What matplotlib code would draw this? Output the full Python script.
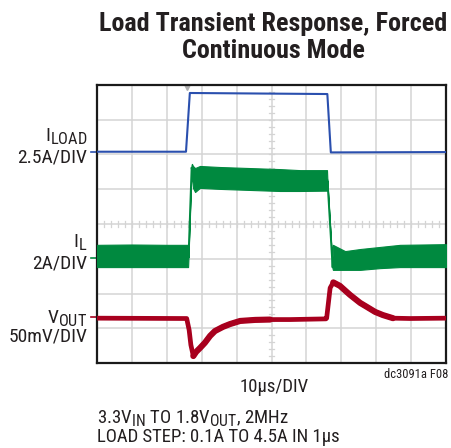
import matplotlib
matplotlib.use("Agg")
import matplotlib.pyplot as plt
import matplotlib._mathtext as mtext

# screen units: 10 x 8 divisions, values
blue_t = [0.00, 2.55, 2.66, 6.60, 6.70, 10.0]
blue_y = [6.08, 6.08, 7.77, 7.74, 6.06, 6.07]

green_t = [0.00, 1.00, 2.00, 2.61, 2.62, 2.71, 2.72, 2.75, 2.81, 2.95, 3.52, 4.38,
           5.24, 5.82, 6.59, 6.60, 6.75, 6.76, 7.11, 7.54, 8.11, 8.68, 10.0]
green_hi = [3.40, 3.41, 3.40, 3.40, 3.05, 5.70, 5.73, 5.67, 5.61, 5.67, 5.64, 5.61,
            5.58, 5.55, 5.55, 5.30, 2.78, 3.40, 3.22, 3.28, 3.34, 3.40, 3.42]
green_lo = [2.76, 2.76, 2.76, 2.76, 3.00, 5.55, 5.41, 5.04, 4.92, 5.04, 5.01, 4.98,
            4.95, 4.95, 4.96, 5.25, 2.72, 2.68, 2.68, 2.68, 2.73, 2.76, 2.76]

red_t = [0.00, 2.57, 2.64, 2.69, 2.76, 2.84, 2.95, 3.09, 3.24, 3.38, 3.61, 3.81, 4.10,
         4.53, 4.96, 5.53, 6.56, 6.58, 6.68, 6.77, 6.96, 7.25, 7.54, 7.74, 7.97, 8.19,
         8.48, 8.97, 10.0]
red_y = [1.29, 1.28, 0.95, 0.52, 0.20, 0.32, 0.43, 0.58, 0.78, 0.92, 1.04, 1.12, 1.21,
         1.24, 1.25, 1.25, 1.27, 1.29, 2.16, 2.32, 2.22, 1.96, 1.73, 1.61, 1.47, 1.38,
         1.29, 1.28, 1.29]

# zero-level markers on the left edge and trigger position
ch_levels = [6.06, 3.02, 1.31]
trig_t = 2.59

BLUE = '#2a4fae'
GREEN = '#00893f'
RED = '#a8001e'
TXT = '#231f20'
GRID = '#d4d4d4'

plt.rcParams['font.family'] = ['Roboto Condensed', 'DejaVu Sans']
plt.rcParams['mathtext.default'] = 'regular'
mtext.SHRINK_FACTOR = 0.84  # subscripts on the datasheet are only a bit smaller

fig = plt.figure(figsize=(4.51, 4.48), dpi=100)
ax = fig.add_axes([97/451, 85/448, 349/451, 278/448])
ax.set_xlim(0, 10)
ax.set_ylim(0, 8)

# graticule
for x in range(1, 10):
    ax.axvline(x, color=GRID, lw=1.1, zorder=1)
for y in range(1, 8):
    ax.axhline(y, color=GRID, lw=1.1, zorder=1)
for i in range(1, 50):
    ax.plot([i*0.2, i*0.2], [3.92, 4.08], color=GRID, lw=0.9, zorder=1)
for i in range(1, 40):
    ax.plot([4.94, 5.06], [i*0.2, i*0.2], color=GRID, lw=0.9, zorder=1)

ax.plot(trig_t, 7.93, 'v', color='#b0b0b0', ms=5, zorder=2)

ax.plot(blue_t, blue_y, color=BLUE, lw=1.5, zorder=3)
ax.fill_between(green_t, green_lo, green_hi, color=GREEN, lw=0.8, zorder=3)
ax.plot(green_t, [(a+b)/2 for a, b in zip(green_hi, green_lo)], color=GREEN, lw=1.3, zorder=3)
ax.plot(red_t, red_y, color=RED, lw=3.4, zorder=3, solid_capstyle='butt')
# recovery tails look thicker on the scope
ax.plot(red_t[4:15], red_y[4:15], color=RED, lw=4.4, zorder=3, solid_capstyle='round')
ax.plot(red_t[19:27], red_y[19:27], color=RED, lw=4.4, zorder=3, solid_capstyle='round')

for lev, c in zip(ch_levels, [BLUE, GREEN, RED]):
    ax.plot([-0.18, -0.02], [lev, lev], color=c, lw=1.2, clip_on=False)

ax.set_xticks([])
ax.set_yticks([])
for s in ax.spines.values():
    s.set_linewidth(1.6)
    s.set_color('#1a1a1a')

def ft(x, y, s, **kw):
    return fig.text(x/451, 1 - y/448, s, color=TXT, **kw)

# fit the bold title to the width it has on the datasheet
t1 = ft(273, 31, 'Load Transient Response, Forced', ha='center', va='baseline',
        fontsize=21, fontweight='bold')
t2 = ft(273, 58, 'Continuous Mode', ha='center', va='baseline', fontsize=21, fontweight='bold')
r = fig.canvas.get_renderer()
w1 = t1.get_window_extent(r).width
size = 21 * 348 / w1
t1.set_fontsize(size)
t2.set_fontsize(size)

ft(87, 141, r'I$_{LOAD}$', ha='right', va='baseline', fontsize=14)
ft(87, 162, '2.5A/DIV', ha='right', va='baseline', fontsize=14)
ft(87, 247, r'I$_{L}$', ha='right', va='baseline', fontsize=14)
ft(87, 268, '2A/DIV', ha='right', va='baseline', fontsize=14)
ft(87, 323, r'V$_{OUT}$', ha='right', va='baseline', fontsize=14)
ft(87, 341, '50mV/DIV', ha='right', va='baseline', fontsize=14)

ft(274, 392, '10µs/DIV', ha='center', va='baseline', fontsize=13.5)
ft(448, 378, 'dc3091a F08', ha='right', va='baseline', fontsize=9)
ft(97, 423, r'3.3V$_{IN}$ TO 1.8V$_{OUT}$, 2MHz',
   ha='left', va='baseline', fontsize=13.5)
ft(97, 442, 'LOAD STEP: 0.1A TO 4.5A IN 1µs', ha='left', va='baseline', fontsize=13.5)

fig.savefig('out.png', dpi=100)
